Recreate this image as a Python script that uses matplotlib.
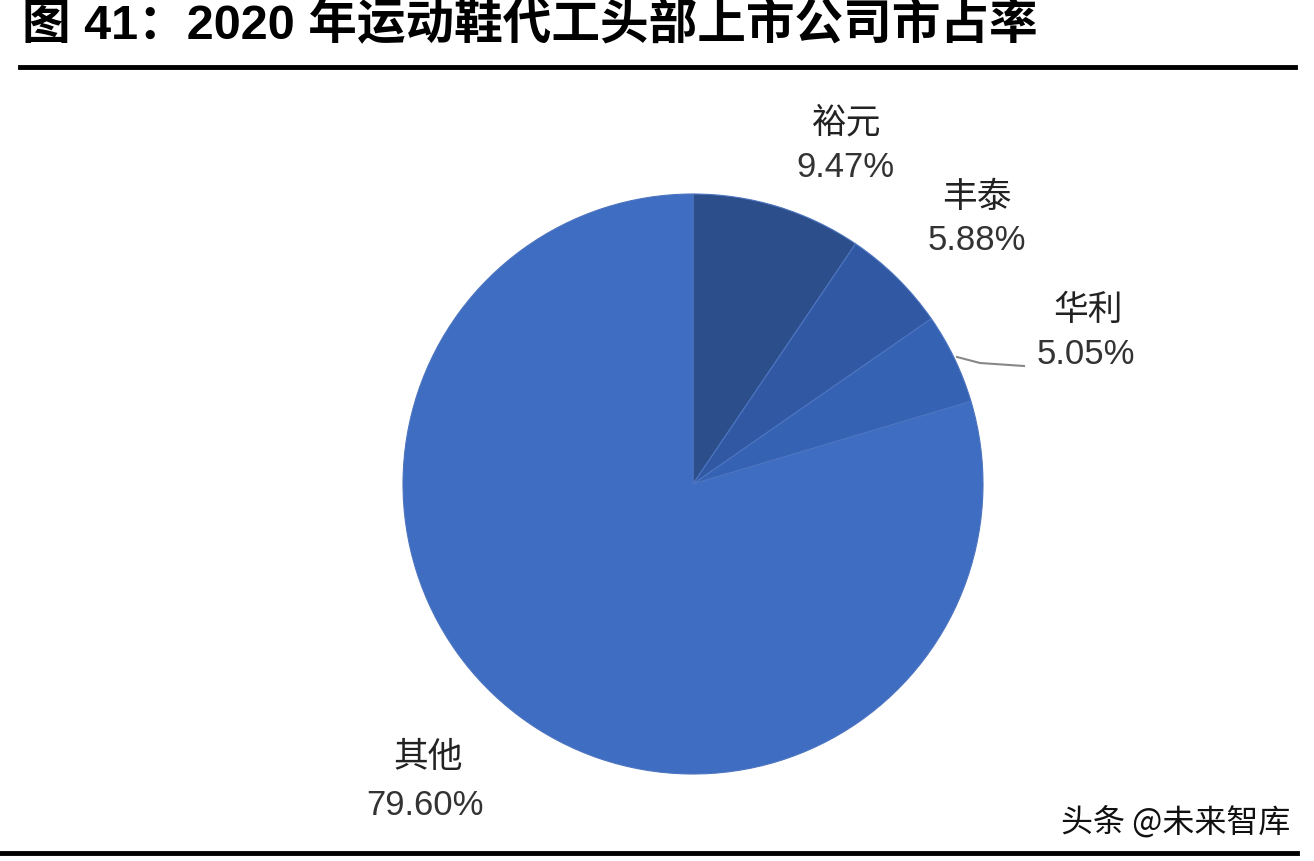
import matplotlib.pyplot as plt
import matplotlib.lines as mlines

plt.rcParams['font.family'] = ['Liberation Sans', 'Noto Sans CJK SC', 'DejaVu Sans']

names = ['裕元', '丰泰', '华利', '其他']
shares = [9.47, 5.88, 5.05, 79.60]
colors = ['#2C4E8A', '#3158A2', '#3562B2', '#3E6DC1']
title = '图 41：2020 年运动鞋代工头部上市公司市占率'
watermark = '头条 @未来智库'

W, H = 1314, 862
fig = plt.figure(figsize=(W / 100, H / 100), dpi=100)

# pie axes: centre (693, 485) px, radius 290 px
cx, cy, r = 693, 485, 290
half = 300
ax = fig.add_axes([(cx - half) / W, (H - cy - half) / H, 2 * half / W, 2 * half / H])
ax.pie(shares, colors=colors, startangle=90, counterclock=False, radius=1,
       wedgeprops=dict(edgecolor='#4C74C0', linewidth=0.8))
lim = half / r
ax.set_xlim(-lim, lim)
ax.set_ylim(-lim, lim)
ax.set_aspect('equal')
ax.axis('off')

# label positions in pixels (name centre, value centre)
label_px = [((847, 123), (845, 167)),
            ((977, 197), (977, 240)),
            ((1088, 310), (1086, 354)),
            ((428, 758), (425, 806))]


def to_data(px, py):
    return (px - cx) / r, (cy - py) / r


for name, val, (npos, vpos) in zip(names, shares, label_px):
    x, y = to_data(*npos)
    ax.text(x, y, name, ha='center', va='center', fontsize=25,
            family=['Noto Sans CJK SC'], color='#222222', clip_on=False)
    x, y = to_data(*vpos)
    ax.text(x, y, f'{val:.2f}%', ha='center', va='center', fontsize=25,
            color='#333333', clip_on=False)

# leader line for 华利
pts = [to_data(957, 358), to_data(980, 364), to_data(1024, 367)]
ax.plot([p[0] for p in pts], [p[1] for p in pts], color='#888888', lw=1.5, clip_on=False)

fig.text(22 / W, 1 - 26 / H, title, ha='left', va='center', fontsize=35,
         fontweight='bold', color='black')

fig.add_artist(mlines.Line2D([20 / W, 1295 / W], [1 - 68 / H, 1 - 68 / H],
                             color='black', lw=3.5))
fig.add_artist(mlines.Line2D([0, 1297 / W], [1 - 854 / H, 1 - 854 / H],
                             color='black', lw=3.5))

fig.text(1290 / W, 1 - 822 / H, watermark, ha='right', va='center', fontsize=23,
         family=['Noto Sans CJK SC'], color='#111111')

fig.savefig('out.png', dpi=100)
